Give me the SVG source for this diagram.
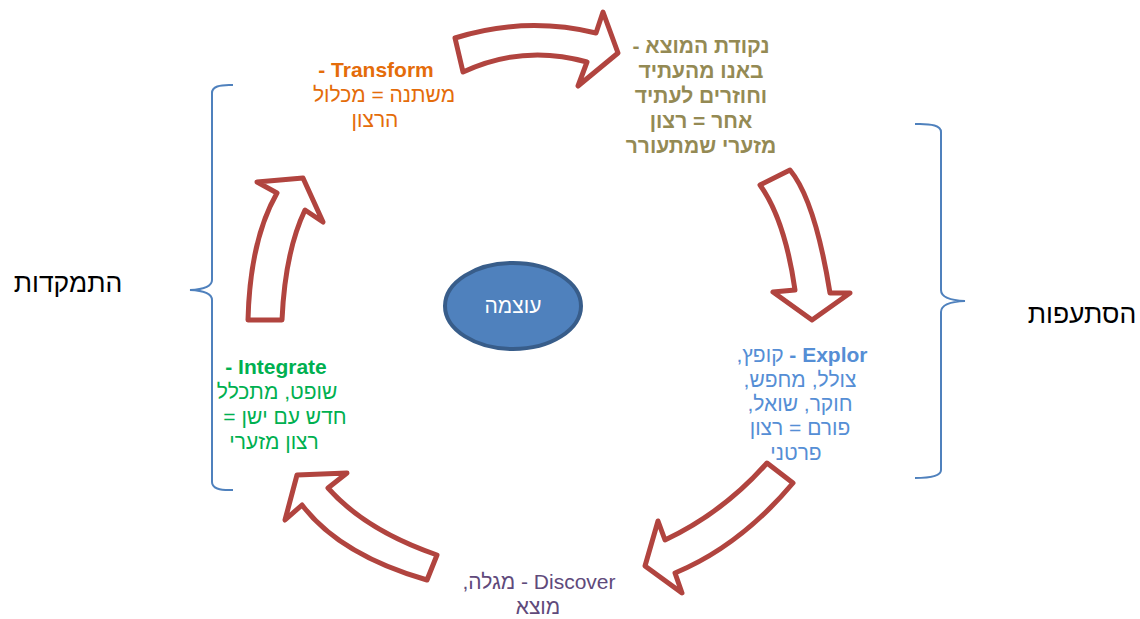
<svg xmlns="http://www.w3.org/2000/svg" width="1140" height="619" viewBox="0 0 1140 619">
<style>
  .arrow { fill: #ffffff; stroke: #b1443f; stroke-width: 5; stroke-linejoin: round; }
  .brace { fill: none; stroke: #4f81bd; stroke-width: 2; }
  text { font-family: "Liberation Sans", "DejaVu Sans", sans-serif; font-size: 21px; text-anchor: middle; }
  .rtl { direction: rtl; unicode-bidi: embed; }
  .b { font-weight: bold; }
  .orange { fill: #e46c0a; }
  .olive { fill: #948a54; font-weight: bold; }
  .blue { fill: #558ed5; }
  .green { fill: #00b050; }
  .purple { fill: #604a7b; }
  .side { fill: #000000; font-size: 26.5px; }
</style>
<rect width="1140" height="619" fill="#ffffff"/>
<g id="connectors">
  <path class="arrow" d="M455,38 Q525,16 596,33 L603,12 L618,53 L578,86 L587,62 Q523,44 463,72 Z"/>
  <path class="arrow" d="M760,185 L790,170 Q815,200 830,293 L850,293 L812,320 L773,292 L795,290 Q785,220 760,185 Z"/>
  <path class="arrow" d="M767,463 L793,483 Q740,546 675,573 L682,593 L645,566 L658,521 L665,540 Q724,512 767,463 Z"/>
  <path class="arrow" d="M297,475 L347,473 L328,488 Q365,530 437,555 L427,580 Q340,555 302,505 L285,520 Z"/>
  <path class="arrow" d="M248,320 L282,320 Q285,252 305,210 L323,222 L303,178 L257,182 L277,193 Q250,240 248,320 Z"/>
</g>
<g id="brace-left">
  <path class="brace" d="M233,85 Q212,84 212,93 L212,280 Q212,289 190,290 Q212,291 212,300 L212,482 Q212,491 233,490"/>
  <text class="side rtl" x="68" y="292">התמקדות</text>
</g>
<g id="brace-right">
  <path class="brace" d="M915,124 Q941,123 941,132 L941,290 Q941,300 965,301 Q941,302 941,312 L941,470 Q941,478 915,478"/>
  <text class="side rtl" x="1082" y="323">הסתעפות</text>
</g>
<g id="center">
  <ellipse cx="513" cy="306" rx="68" ry="43" fill="#4f81bd" stroke="#385d8a" stroke-width="4"/>
  <text class="rtl" x="513" y="313" fill="#ffffff">עוצמה</text>
</g>
<g id="transform">
  <text class="orange b" x="376" y="77">- Transform</text>
  <text class="orange rtl" x="384" y="102">משתנה = מכלול</text>
  <text class="orange rtl" x="375" y="127">הרצון</text>
</g>
<g id="starting-point">
  <text class="olive rtl" x="701" y="53">נקודת המוצא -</text>
  <text class="olive rtl" x="701" y="78">באנו מהעתיד</text>
  <text class="olive rtl" x="701" y="103">וחוזרים לעתיד</text>
  <text class="olive rtl" x="701" y="128">אחר = רצון</text>
  <text class="olive rtl" x="701" y="153">מזערי שמתעורר</text>
</g>
<g id="explor">
  <text class="blue rtl" x="802" y="362"><tspan class="b">Explor -</tspan> קופץ,</text>
  <text class="blue rtl" x="800" y="387">צולל, מחפש,</text>
  <text class="blue rtl" x="800" y="411">חוקר, שואל,</text>
  <text class="blue rtl" x="800" y="435">פורם = רצון</text>
  <text class="blue rtl" x="796" y="460">פרטני</text>
</g>
<g id="discover">
  <text class="purple rtl" x="539" y="589">Discover - מגלה,</text>
  <text class="purple rtl" x="538" y="614">מוצא</text>
</g>
<g id="integrate">
  <text class="green b" x="276" y="374">- Integrate</text>
  <text class="green rtl" x="277" y="399">שופט, מתכלל</text>
  <text class="green rtl" x="285" y="424">חדש עם ישן =</text>
  <text class="green rtl" x="274" y="449">רצון מזערי</text>
</g>
</svg>
